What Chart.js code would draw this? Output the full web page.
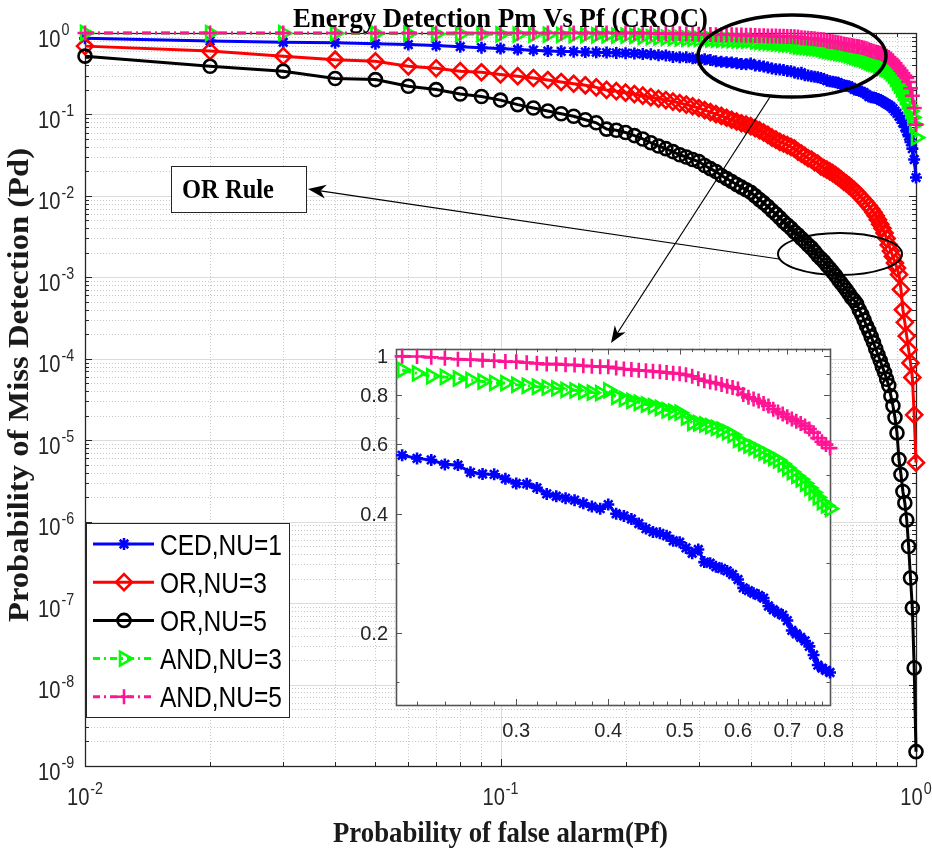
<!DOCTYPE html>
<html>
<head>
<meta charset="utf-8">
<script src="https://cdn.jsdelivr.net/npm/chart.js@4.4.1/dist/chart.umd.min.js"></script>
<style>
  html, body { margin: 0; padding: 0; background: #fff; }
  #wrap { position: relative; width: 932px; height: 848px; }
  #main { position: absolute; left: 0; top: 0; }
  #inset { position: absolute; left: 350px; top: 338px; }
</style>
</head>
<body>
<div id="wrap">
  <canvas id="main" width="932" height="848"></canvas>
  <canvas id="inset" width="505" height="410"></canvas>
</div>
<script>
// probability of false alarm (x)
const pf = [
  0.01, 0.02, 0.03, 0.04, 0.05, 0.06, 0.07, 0.08, 0.09, 0.10,
  0.11, 0.12, 0.13, 0.14, 0.15, 0.16, 0.17, 0.18, 0.19, 0.20,
  0.21, 0.22, 0.23, 0.24, 0.25, 0.26, 0.27, 0.28, 0.29, 0.30,
  0.31, 0.32, 0.33, 0.34, 0.35, 0.36, 0.37, 0.38, 0.39, 0.40,
  0.41, 0.42, 0.43, 0.44, 0.45, 0.46, 0.47, 0.48, 0.49, 0.50,
  0.51, 0.52, 0.53, 0.54, 0.55, 0.56, 0.57, 0.58, 0.59, 0.60,
  0.61, 0.62, 0.63, 0.64, 0.65, 0.66, 0.67, 0.68, 0.69, 0.70,
  0.71, 0.72, 0.73, 0.74, 0.75, 0.76, 0.77, 0.78, 0.79, 0.80,
  0.81, 0.82, 0.83, 0.84, 0.85, 0.86, 0.87, 0.88, 0.89, 0.90,
  0.91, 0.92, 0.93, 0.94, 0.95, 0.96, 0.97, 0.98, 0.99, 1.00
];

// probability of miss detection, one array per curve
const cedNu1 = [
  0.86, 0.80, 0.77, 0.76, 0.74, 0.72, 0.70, 0.68, 0.66, 0.645,
  0.627, 0.615, 0.60, 0.595, 0.59, 0.585, 0.58, 0.575, 0.57, 0.566,
  0.562, 0.552, 0.547, 0.533, 0.531, 0.509, 0.504, 0.503, 0.49, 0.477,
  0.476, 0.465, 0.449, 0.443, 0.438, 0.433, 0.425, 0.417, 0.412, 0.422,
  0.40, 0.395, 0.388, 0.378, 0.367, 0.36, 0.357, 0.352, 0.342, 0.339,
  0.328, 0.318, 0.325, 0.302, 0.30, 0.294, 0.291, 0.287, 0.281, 0.273,
  0.26, 0.256, 0.252, 0.249, 0.245, 0.234, 0.229, 0.225, 0.222, 0.215,
  0.203, 0.199, 0.195, 0.191, 0.185, 0.176, 0.166, 0.163, 0.161, 0.159,
  0.155, 0.150, 0.145, 0.140, 0.135, 0.130, 0.125, 0.118, 0.110, 0.103,
  0.095, 0.087, 0.079, 0.070, 0.062, 0.054, 0.046, 0.038, 0.028, 0.0168
];
const orNu3 = [
  0.69, 0.60, 0.52, 0.47, 0.45, 0.39, 0.368, 0.34, 0.33, 0.31,
  0.295, 0.28, 0.265, 0.25, 0.238, 0.228, 0.215, 0.20, 0.193, 0.185,
  0.178, 0.17, 0.163, 0.156, 0.15, 0.144, 0.138, 0.132, 0.126, 0.12,
  0.113, 0.107, 0.101, 0.096, 0.091, 0.086, 0.082, 0.078, 0.075, 0.072,
  0.068, 0.064, 0.06, 0.056, 0.052, 0.049, 0.046, 0.044, 0.042, 0.040,
  0.038, 0.035, 0.033, 0.031, 0.029, 0.028, 0.026, 0.025, 0.023, 0.022,
  0.021, 0.020, 0.019, 0.018, 0.017, 0.016, 0.015, 0.0142, 0.0134, 0.0126,
  0.0118, 0.0110, 0.0102, 0.0095, 0.0088, 0.0081, 0.0075, 0.0069, 0.0063, 0.0057,
  0.0051, 0.0045, 0.0040, 0.0035, 0.0030, 0.0025, 0.0021, 0.0018, 0.0015, 0.0013,
  1.08e-3, 7.1e-4, 4.0e-4, 2.8e-4, 1.9e-4, 1.29e-4, 8.9e-5, 5.9e-5, 2.05e-5, 5.3e-6
];
const orNu5 = [
  0.52, 0.39, 0.34, 0.276, 0.268, 0.222, 0.202, 0.178, 0.166, 0.15,
  0.132, 0.12, 0.11, 0.102, 0.095, 0.086, 0.079, 0.066, 0.064, 0.06,
  0.055, 0.05, 0.045, 0.041, 0.038, 0.035, 0.032, 0.030, 0.028, 0.0264,
  0.0236, 0.0216, 0.0199, 0.0178, 0.0163, 0.015, 0.0138, 0.0128, 0.0119, 0.0111,
  0.0100, 0.0090, 0.0082, 0.0074, 0.0066, 0.0060, 0.0054, 0.0048, 0.0044, 0.0040,
  0.0036, 0.0033, 0.0030, 0.00275, 0.0025, 0.0023, 0.00207, 0.00185, 0.0017, 0.00156,
  1.41e-3, 1.28e-3, 1.16e-3, 1.05e-3, 9.4e-4, 8.5e-4, 7.7e-4, 7.0e-4, 6.3e-4, 5.6e-4,
  5.2e-4, 4.7e-4, 4.0e-4, 3.5e-4, 3.0e-4, 2.55e-4, 2.2e-4, 1.87e-4, 1.58e-4, 1.33e-4,
  1.12e-4, 9.5e-5, 8.0e-5, 6.8e-5, 5.6e-5, 4.7e-5, 3.5e-5, 2.65e-5, 1.9e-5, 1.23e-5,
  5.8e-6, 3.8e-6, 2.35e-6, 1.7e-6, 1.05e-6, 4.96e-7, 2.03e-7, 8.7e-8, 1.6e-8, 1.5e-9
];
const andNu3 = [
  1.0, 0.998, 0.995, 0.99, 0.985, 0.98, 0.975, 0.97, 0.965, 0.96,
  0.958, 0.955, 0.952, 0.948, 0.945, 0.942, 0.938, 0.934, 0.93, 0.927,
  0.923, 0.905, 0.89, 0.886, 0.878, 0.871, 0.863, 0.856, 0.855, 0.847,
  0.842, 0.837, 0.833, 0.829, 0.822, 0.82, 0.814, 0.809, 0.807, 0.82,
  0.79, 0.78, 0.771, 0.763, 0.755, 0.748, 0.74, 0.73, 0.724, 0.72,
  0.70, 0.679, 0.677, 0.672, 0.666, 0.659, 0.652, 0.643, 0.633, 0.615,
  0.603, 0.595, 0.588, 0.579, 0.571, 0.562, 0.554, 0.546, 0.534, 0.522,
  0.51, 0.499, 0.489, 0.477, 0.465, 0.453, 0.44, 0.428, 0.42, 0.412,
  0.40, 0.39, 0.378, 0.366, 0.355, 0.34, 0.32, 0.30, 0.275, 0.25,
  0.228, 0.205, 0.185, 0.165, 0.145, 0.128, 0.11, 0.092, 0.075, 0.052
];
const andNu5 = [
  1.0, 1.0, 1.0, 1.0, 1.0, 1.0, 1.0, 0.999, 0.999, 0.999,
  0.999, 0.999, 0.999, 0.999, 0.999, 0.999, 0.999, 0.999, 0.999, 0.999,
  0.999, 0.998, 0.994, 0.988, 0.982, 0.98, 0.977, 0.974, 0.969, 0.968,
  0.963, 0.959, 0.955, 0.955, 0.951, 0.95, 0.946, 0.943, 0.941, 0.94,
  0.933, 0.928, 0.925, 0.921, 0.919, 0.916, 0.913, 0.909, 0.906, 0.903,
  0.897, 0.89, 0.877, 0.867, 0.86, 0.855, 0.848, 0.84, 0.834, 0.826,
  0.80, 0.787, 0.78, 0.771, 0.76, 0.749, 0.735, 0.723, 0.714, 0.703,
  0.694, 0.685, 0.676, 0.666, 0.655, 0.641, 0.621, 0.608, 0.598, 0.586,
  0.575, 0.563, 0.55, 0.535, 0.52, 0.50, 0.48, 0.455, 0.425, 0.395,
  0.37, 0.345, 0.32, 0.30, 0.28, 0.25, 0.21, 0.17, 0.12, 0.075
];

const seriesNames = ['CED,NU=1', 'OR,NU=3', 'OR,NU=5', 'AND,NU=3', 'AND,NU=5'];
const seriesValues = [cedNu1, orNu3, orNu5, andNu3, andNu5];

// tick labels
const yExponents = [0, -1, -2, -3, -4, -5, -6, -7, -8, -9];
const xExponents = [-2, -1, 0];
const insetXLabels = [0.3, 0.4, 0.5, 0.6, 0.7, 0.8];
const insetXMinor = [0.22, 0.24, 0.26, 0.28, 0.32, 0.34, 0.36, 0.38, 0.42, 0.44, 0.46, 0.48,
  0.52, 0.54, 0.56, 0.58, 0.62, 0.64, 0.66, 0.68, 0.72, 0.74, 0.76, 0.78];
const insetYLabels = [0.2, 0.4, 0.6, 0.8, 1];
const insetYMinor = [0.15, 0.3, 0.5, 0.7, 0.9];

const looks = [
  { color: '#0000ff', pointStyle: 'star', radius: 6, rotation: 0, dash: [] },
  { color: '#ff0000', pointStyle: 'rectRot', radius: 8, rotation: 0, dash: [] },
  { color: '#000000', pointStyle: 'circle', radius: 6.5, rotation: 0, dash: [] },
  { color: '#00ff00', pointStyle: 'triangle', radius: 8, rotation: 90, dash: [9, 4, 2, 4] },
  { color: '#ff1493', pointStyle: 'cross', radius: 7.5, rotation: 0, dash: [9, 4, 2, 4] }
];

const AXIS = '#262626';
const SANS = '"Liberation Sans", Arial, sans-serif';
const SERIF = '"Liberation Serif", "Times New Roman", serif';

function makeDatasets(which, from, to) {
  return which.map(i => ({
    label: seriesNames[i],
    data: pf.slice(from, to).map((p, j) => ({ x: p, y: seriesValues[i][from + j] })),
    borderColor: looks[i].color,
    backgroundColor: 'rgba(0,0,0,0)',
    borderWidth: 3,
    borderDash: looks[i].dash,
    pointStyle: looks[i].pointStyle,
    pointRadius: looks[i].radius,
    pointRotation: looks[i].rotation,
    pointBorderColor: looks[i].color,
    pointBackgroundColor: 'rgba(0,0,0,0)',
    pointBorderWidth: 2.6,
    tension: 0,
    clip: false,
    order: 4 - i
  }));
}

// text squeezed/stretched to a measured width
function text(ctx, str, x, y, font, opts = {}) {
  ctx.save();
  ctx.translate(x, y);
  if (opts.rotate) ctx.rotate(opts.rotate);
  ctx.font = font;
  ctx.fillStyle = opts.color || '#000';
  ctx.textBaseline = 'alphabetic';
  const w = ctx.measureText(str).width;
  let sx = opts.sx || 1;
  if (opts.width) sx = opts.width / w;
  ctx.scale(sx, 1);
  const align = opts.align || 'left';
  let dx = 0;
  if (align === 'center') dx = -w / 2;
  if (align === 'right') dx = -w;
  ctx.fillText(str, dx, 0);
  ctx.restore();
  return w * sx;
}

function measure(ctx, str, font, sx) {
  ctx.save();
  ctx.font = font;
  const w = ctx.measureText(str).width * sx;
  ctx.restore();
  return w;
}

function powerLabel(ctx, exp, x, y, align) {
  const sx = 0.84;
  const fb = '24px ' + SANS, fs = '17px ' + SANS;
  const sup = String(exp);
  const wb = measure(ctx, '10', fb, sx), ws = measure(ctx, sup, fs, sx);
  let left = x;
  if (align === 'center') left = x - (wb + ws + 1) / 2;
  text(ctx, '10', left, y + 13.5, fb, { sx, color: AXIS });
  text(ctx, sup, left + wb + 1, y + 2, fs, { sx, color: AXIS });
}

function marker(ctx, i, x, y) {
  ctx.save();
  ctx.strokeStyle = looks[i].color;
  ctx.fillStyle = 'rgba(0,0,0,0)';
  ctx.lineWidth = 2.6;
  ctx.setLineDash([]);
  Chart.helpers.drawPoint(ctx, {
    pointStyle: looks[i].pointStyle, radius: looks[i].radius,
    rotation: looks[i].rotation, borderWidth: 2.6
  }, x, y);
  ctx.restore();
}

function arrow(ctx, x1, y1, x2, y2, len, half) {
  const ang = Math.atan2(y2 - y1, x2 - x1);
  const c = Math.cos(ang), s = Math.sin(ang);
  ctx.beginPath();
  ctx.moveTo(x1, y1);
  ctx.lineTo(x2 - len * 0.7 * c, y2 - len * 0.7 * s);
  ctx.stroke();
  ctx.beginPath();
  ctx.moveTo(x2, y2);
  ctx.lineTo(x2 - len * c + half * s, y2 - len * s - half * c);
  ctx.lineTo(x2 - len * 0.7 * c, y2 - len * 0.7 * s);
  ctx.lineTo(x2 - len * c - half * s, y2 - len * s + half * c);
  ctx.closePath();
  ctx.fill();
}

const mainDecor = {
  id: 'mainDecor',
  beforeDatasetsDraw(chart) {
    const { ctx, chartArea: a, scales: { x, y } } = chart;
    ctx.save();
    ctx.lineWidth = 1;
    // minor grid, dotted
    ctx.strokeStyle = '#c8c8c8';
    ctx.setLineDash([1, 2]);
    for (let d = -9; d < 0; d++) {
      for (let k = 2; k < 10; k++) {
        const py = Math.round(y.getPixelForValue(k * Math.pow(10, d))) + 0.5;
        ctx.beginPath(); ctx.moveTo(a.left, py); ctx.lineTo(a.right, py); ctx.stroke();
      }
    }
    for (let d = -2; d < 0; d++) {
      for (let k = 2; k < 10; k++) {
        const px = Math.round(x.getPixelForValue(k * Math.pow(10, d))) + 0.5;
        ctx.beginPath(); ctx.moveTo(px, a.top); ctx.lineTo(px, a.bottom); ctx.stroke();
      }
    }
    // major grid
    ctx.setLineDash([]);
    ctx.strokeStyle = '#dcdcdc';
    yExponents.slice(1, -1).forEach(e => {
      const py = Math.round(y.getPixelForValue(Math.pow(10, e))) + 0.5;
      ctx.beginPath(); ctx.moveTo(a.left, py); ctx.lineTo(a.right, py); ctx.stroke();
    });
    xExponents.slice(1, -1).forEach(e => {
      const px = Math.round(x.getPixelForValue(Math.pow(10, e))) + 0.5;
      ctx.beginPath(); ctx.moveTo(px, a.top); ctx.lineTo(px, a.bottom); ctx.stroke();
    });
    // ticks, inward on all sides
    ctx.strokeStyle = AXIS;
    for (let d = -9; d <= 0; d++) {
      for (let k = 1; k < 10; k++) {
        const v = k * Math.pow(10, d);
        if (v > 1) break;
        const py = Math.round(y.getPixelForValue(v)) + 0.5;
        const len = k === 1 ? 7 : 4;
        ctx.beginPath();
        ctx.moveTo(a.left, py); ctx.lineTo(a.left + len, py);
        ctx.moveTo(a.right, py); ctx.lineTo(a.right - len, py);
        ctx.stroke();
      }
    }
    for (let d = -2; d <= 0; d++) {
      for (let k = 1; k < 10; k++) {
        const v = k * Math.pow(10, d);
        if (v > 1) break;
        const px = Math.round(x.getPixelForValue(v)) + 0.5;
        const len = k === 1 ? 7 : 4;
        ctx.beginPath();
        ctx.moveTo(px, a.bottom); ctx.lineTo(px, a.bottom - len);
        ctx.moveTo(px, a.top); ctx.lineTo(px, a.top + len);
        ctx.stroke();
      }
    }
    // frame
    ctx.lineWidth = 1.3;
    ctx.strokeRect(Math.round(a.left) + 0.5, Math.round(a.top) + 0.5,
      Math.round(a.right - a.left), Math.round(a.bottom - a.top));
    ctx.restore();
  },
  afterDraw(chart) {
    const { ctx, chartArea: a, scales: { x, y } } = chart;
    ctx.save();
    // tick labels
    yExponents.forEach(e => powerLabel(ctx, e, 38, y.getPixelForValue(Math.pow(10, e)), 'left'));
    xExponents.forEach(e => {
      const px = x.getPixelForValue(Math.pow(10, e));
      powerLabel(ctx, e, px, 791.5, 'center');
    });
    // title and axis labels
    text(ctx, 'Energy Detection Pm Vs Pf (CROC)', (a.left + a.right) / 2, 27,
      'bold 27px ' + SERIF, { align: 'center', width: 415 });
    text(ctx, 'Probability of false alarm(Pf)', (a.left + a.right) / 2, 842,
      'bold 30px ' + SERIF, { align: 'center', width: 335, color: '#1a1a1a' });
    text(ctx, 'Probability of Miss Detection (Pd)', 27.5, 385,
      'bold 29px ' + SERIF, { align: 'center', width: 474, rotate: -Math.PI / 2, color: '#1a1a1a' });

    // legend
    ctx.fillStyle = '#fff';
    ctx.fillRect(86, 523, 203, 194);
    ctx.strokeStyle = AXIS;
    ctx.lineWidth = 1;
    ctx.strokeRect(86.5, 523.5, 203, 194);
    const lf = '29px ' + SANS;
    ctx.font = lf;
    const lsx = 122 / ctx.measureText(seriesNames[0]).width;
    seriesNames.forEach((name, i) => {
      const ly = 544 + i * 38.2;
      ctx.save();
      ctx.strokeStyle = looks[i].color;
      ctx.lineWidth = 3;
      ctx.setLineDash(looks[i].dash.length ? [7, 4, 2, 4] : []);
      ctx.beginPath(); ctx.moveTo(93, ly); ctx.lineTo(154, ly); ctx.stroke();
      ctx.restore();
      marker(ctx, i, 124, ly);
      text(ctx, name, 160, ly + 10.5, lf, { sx: lsx });
    });

    // annotations
    ctx.strokeStyle = '#000';
    ctx.fillStyle = '#000';
    ctx.setLineDash([]);
    ctx.lineWidth = 3.5;
    ctx.beginPath(); ctx.ellipse(792, 56, 94, 41, 0, 0, Math.PI * 2); ctx.stroke();
    ctx.lineWidth = 2;
    ctx.beginPath(); ctx.ellipse(840, 254, 62, 21, 0, 0, Math.PI * 2); ctx.stroke();
    ctx.lineWidth = 1.2;
    arrow(ctx, 779, 259, 308, 189, 18, 7);
    arrow(ctx, 770, 97, 611, 343, 17, 6.5);
    // OR Rule text box
    ctx.fillStyle = '#fff';
    ctx.fillRect(171, 166, 135, 46);
    ctx.strokeStyle = AXIS;
    ctx.lineWidth = 1;
    ctx.strokeRect(171.5, 166.5, 135, 46);
    text(ctx, 'OR Rule', 182, 198, 'bold 27px ' + SERIF, { width: 92 });
    ctx.restore();
  }
};

const insetDecor = {
  id: 'insetDecor',
  beforeDatasetsDraw(chart) {
    const { ctx, chartArea: a, scales: { x, y } } = chart;
    ctx.save();
    ctx.fillStyle = '#fff';
    ctx.fillRect(a.left, a.top, a.right - a.left, a.bottom - a.top);
    ctx.strokeStyle = '#555';
    ctx.lineWidth = 1;
    const xt = insetXLabels.map(v => [v, 6]).concat(insetXMinor.map(v => [v, 3.5]));
    xt.forEach(([v, len]) => {
      const px = Math.round(x.getPixelForValue(v)) + 0.5;
      ctx.beginPath();
      ctx.moveTo(px, a.bottom); ctx.lineTo(px, a.bottom - len);
      ctx.moveTo(px, a.top); ctx.lineTo(px, a.top + len);
      ctx.stroke();
    });
    const yt = insetYLabels.map(v => [v, 6]).concat(insetYMinor.map(v => [v, 3.5]));
    yt.forEach(([v, len]) => {
      const py = Math.round(y.getPixelForValue(v)) + 0.5;
      ctx.beginPath();
      ctx.moveTo(a.left, py); ctx.lineTo(a.left + len, py);
      ctx.moveTo(a.right, py); ctx.lineTo(a.right - len, py);
      ctx.stroke();
    });
    ctx.lineWidth = 1.6;
    ctx.strokeRect(Math.round(a.left) + 0.5, Math.round(a.top) + 0.5,
      Math.round(a.right - a.left), Math.round(a.bottom - a.top));
    const f = '20px ' + SANS;
    insetXLabels.forEach(v => text(ctx, String(v), x.getPixelForValue(v), a.bottom + 32, f,
      { align: 'center', color: AXIS }));
    insetYLabels.forEach(v => text(ctx, String(v), a.left - 8, y.getPixelForValue(v) + 7, f,
      { align: 'right', color: AXIS }));
    ctx.restore();
  }
};

const baseOptions = {
  responsive: false,
  animation: false,
  devicePixelRatio: 1,
  events: [],
  plugins: { legend: { display: false }, title: { display: false }, tooltip: { enabled: false } }
};

new Chart(document.getElementById('main').getContext('2d'), {
  type: 'line',
  data: { datasets: makeDatasets([0, 1, 2, 3, 4], 0, pf.length) },
  options: Object.assign({}, baseOptions, {
    layout: { padding: { left: 85, right: 16, top: 33, bottom: 82 } },
    scales: {
      x: { type: 'logarithmic', min: 0.01, max: 1, display: false },
      y: { type: 'logarithmic', min: 1e-9, max: 1, display: false }
    }
  }),
  plugins: [mainDecor]
});

new Chart(document.getElementById('inset').getContext('2d'), {
  type: 'line',
  data: { datasets: makeDatasets([0, 3, 4], 20, 80) },
  options: Object.assign({}, baseOptions, {
    layout: { padding: { left: 46, right: 25, top: 7, bottom: 43 } },
    scales: {
      x: { type: 'logarithmic', min: 0.206, max: 0.8, display: false },
      y: { type: 'logarithmic', min: 0.1316, max: 1.045, display: false }
    }
  }),
  plugins: [insetDecor]
});
</script>
</body>
</html>
